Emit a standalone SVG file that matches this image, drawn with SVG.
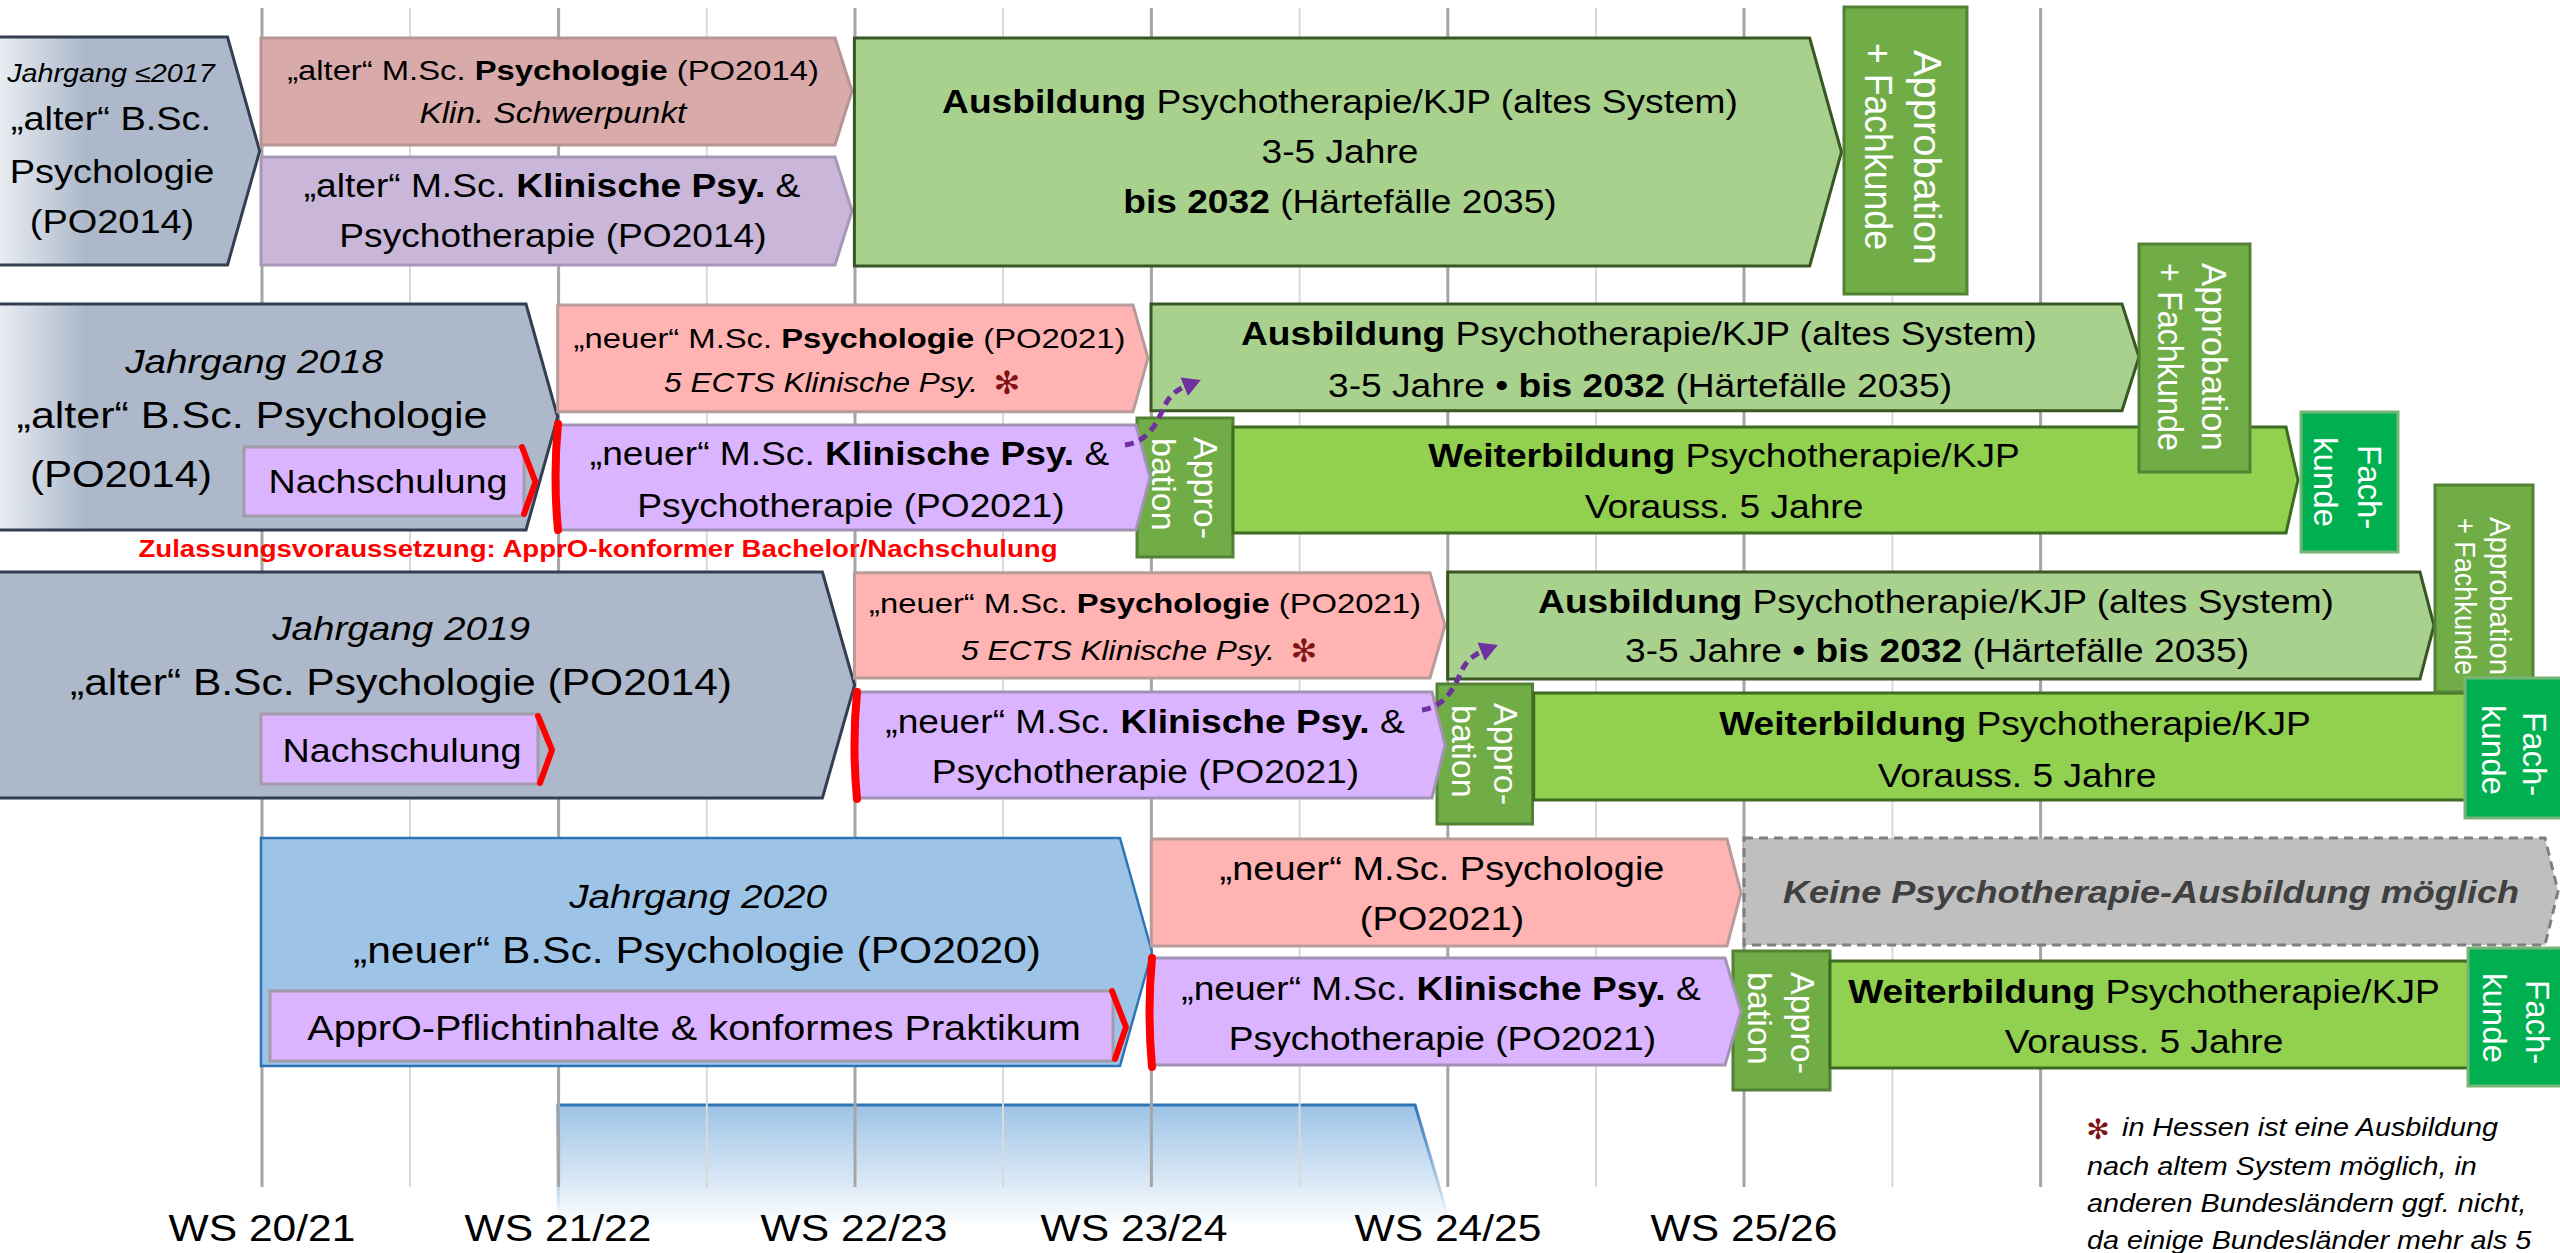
<svg xmlns="http://www.w3.org/2000/svg" width="2560" height="1253" viewBox="0 0 2560 1253">
<defs>
<linearGradient id="grayFade" gradientUnits="userSpaceOnUse" x1="0" y1="0" x2="85" y2="0"><stop offset="0" stop-color="#e9edf3"/><stop offset="1" stop-color="#adb9ca"/></linearGradient>
<linearGradient id="blueFade" gradientUnits="userSpaceOnUse" x1="0" y1="1105" x2="0" y2="1228"><stop offset="0" stop-color="#9dc3e6"/><stop offset="1" stop-color="#ffffff"/></linearGradient>
<linearGradient id="blueEdge" gradientUnits="userSpaceOnUse" x1="0" y1="1105" x2="0" y2="1215"><stop offset="0" stop-color="#2e75b6"/><stop offset="1" stop-color="#2e75b6" stop-opacity="0"/></linearGradient>
<marker id="ah" viewBox="0 0 18 20" refX="2" refY="10" markerWidth="18" markerHeight="20" markerUnits="userSpaceOnUse" orient="auto"><path d="M0,0 L18,10 L0,20 z" fill="#7030a0"/></marker>
<style>
.t{font-family:"Liberation Sans",Arial,sans-serif;text-anchor:middle;transform-box:fill-box;transform-origin:center;transform:scaleX(1.15);fill:#000}
.fl{font-family:"Liberation Sans",Arial,sans-serif;font-style:italic;font-size:25px;transform-box:fill-box;transform-origin:left center;transform:scaleX(1.15);fill:#000}
.i{font-style:italic}
.b{font-weight:bold}
.v{font-family:"Liberation Sans",Arial,sans-serif;fill:#ffffff}
.star{font-family:"DejaVu Sans",sans-serif;fill:#7f1414;text-anchor:middle}
.maj{stroke:#a6a6a6;stroke-width:3}
.min{stroke:#d9d9d9;stroke-width:2}
.gray{fill:#adb9ca;stroke:#333f50;stroke-width:3}
.grayG{fill:url(#grayFade);stroke:#333f50;stroke-width:3}
.pinkOld{fill:#d9aaaa;stroke:#b99494;stroke-width:3}
.purOld{fill:#c9b6d9;stroke:#a797b7;stroke-width:3}
.pink{fill:#ffb3b3;stroke:#b99b9b;stroke-width:3}
.pur{fill:#dab4fe;stroke:#a293b3;stroke-width:3}
.ausb{fill:#a9d18e;stroke:#385723;stroke-width:3}
.weit{fill:#92d050;stroke:#3e6b22;stroke-width:3}
.appr{fill:#70ad47;stroke:#548235;stroke-width:3}
.fach{fill:#00b050;stroke:#76b576;stroke-width:3}
.blue{fill:#9dc3e6;stroke:#2e75b6;stroke-width:2.5}
.nach{fill:#dab4fe;stroke:#a49aa9;stroke-width:3}
.none{fill:#bfbfbf;stroke:#7f7f7f;stroke-width:3;stroke-dasharray:9 6}
.red{fill:none;stroke:#ff0000;stroke-width:6;stroke-linecap:round;stroke-linejoin:round}
.redbar{fill:none;stroke:#ff0000;stroke-width:8;stroke-linecap:round}
</style>
</defs>
<rect width="2560" height="1253" fill="#ffffff"/>

<g id="future-fade">
<polygon points="558,1105 1415,1105 1459,1253 558,1253" fill="url(#blueFade)"/>
<polyline points="558,1253 558,1105 1415,1105 1459,1253" fill="none" stroke="url(#blueEdge)" stroke-width="3"/>
</g>

<g id="grid">
<line class="maj" x1="262" y1="8" x2="262" y2="1187"/>
<line class="min" x1="410" y1="8" x2="410" y2="1187"/>
<line class="maj" x1="558.6" y1="8" x2="558.6" y2="1187"/>
<line class="min" x1="706.8" y1="8" x2="706.8" y2="1187"/>
<line class="maj" x1="855" y1="8" x2="855" y2="1187"/>
<line class="min" x1="1003" y1="8" x2="1003" y2="1187"/>
<line class="maj" x1="1151.4" y1="8" x2="1151.4" y2="1187"/>
<line class="min" x1="1299.6" y1="8" x2="1299.6" y2="1187"/>
<line class="maj" x1="1447.8" y1="8" x2="1447.8" y2="1187"/>
<line class="min" x1="1596" y1="8" x2="1596" y2="1187"/>
<line class="maj" x1="1744" y1="8" x2="1744" y2="1187"/>
<line class="min" x1="1892.4" y1="8" x2="1892.4" y2="1187"/>
<line class="maj" x1="2040.6" y1="8" x2="2040.6" y2="1187"/>
</g>

<!-- Row 1 -->
<g id="bsc-2017">
<polygon class="grayG" points="-3,37 227.5,37 259.7,151 227.5,265 -3,265"/>
<text class="t i" x="111" y="82" font-size="25">Jahrgang ≤2017</text>
<text class="t" x="111" y="130" font-size="33">„alter“ B.Sc.</text>
<text class="t" x="112" y="183" font-size="33">Psychologie</text>
<text class="t" x="112" y="233" font-size="33">(PO2014)</text>
</g>
<g id="msc-psy-2014">
<polygon class="pinkOld" points="261,38 835,38 852,91 835,145 261,145"/>
<text class="t" x="553" y="80" font-size="28.5">„alter“ M.Sc. <tspan class="b">Psychologie</tspan> (PO2014)</text>
<text class="t i" x="553" y="123" font-size="29">Klin. Schwerpunkt</text>
</g>
<g id="msc-klin-2014">
<polygon class="purOld" points="261,157 835,157 852,211 835,265 261,265"/>
<text class="t" x="552" y="197" font-size="32.3">„alter“ M.Sc. <tspan class="b">Klinische Psy.</tspan> &amp;</text>
<text class="t" x="553" y="247" font-size="32.3">Psychotherapie (PO2014)</text>
</g>
<g id="ausbildung-1">
<polygon class="ausb" points="854.4,38 1809.7,38 1841.5,152 1809.7,266 854.4,266"/>
<text class="t" x="1340" y="113" font-size="32.3"><tspan class="b">Ausbildung</tspan> Psychotherapie/KJP (altes System)</text>
<text class="t" x="1340" y="163" font-size="32.3">3-5 Jahre</text>
<text class="t" x="1340" y="213" font-size="32.3"><tspan class="b">bis 2032</tspan> (Härtefälle 2035)</text>
</g>
<g id="approb-fach-1">
<rect class="appr" x="1844" y="7" width="123" height="287"/>
<text class="v" font-size="38" transform="translate(1914,50) rotate(90)" textLength="215" lengthAdjust="spacingAndGlyphs">Approbation</text>
<text class="v" font-size="38" transform="translate(1865,43) rotate(90)" textLength="207" lengthAdjust="spacingAndGlyphs">+ Fachkunde</text>
</g>

<!-- Row 2 -->
<g id="bsc-2018">
<polygon class="grayG" points="-3,304 526,304 557.7,417 526,530 -3,530"/>
<text class="t i" x="254" y="373" font-size="33.6">Jahrgang 2018</text>
<text class="t" x="252" y="428" font-size="37.4">„alter“ B.Sc. Psychologie</text>
<text class="t" x="121" y="487" font-size="36.5">(PO2014)</text>
</g>
<g id="nachschulung-2018">
<rect class="nach" x="244" y="447" width="280" height="69"/>
<text class="t" x="388" y="493" font-size="32.8">Nachschulung</text>
<polyline class="red" points="522,447 535.5,482 524,514"/>
</g>
<g id="appbat-2">
<rect class="appr" x="1137" y="418" width="96" height="139"/>
<text class="v" font-size="34" transform="translate(1194,437) rotate(90)">Appro-</text>
<text class="v" font-size="34" transform="translate(1152,438) rotate(90)">bation</text>
</g>
<g id="msc-psy-2021-a">
<polygon class="pink" points="557.7,305 1133,305 1148,358 1133,411.7 557.7,411.7"/>
<text class="t" x="849.5" y="348" font-size="28.5">„neuer“ M.Sc. <tspan class="b">Psychologie</tspan> (PO2021)</text>
<text class="t i" x="821" y="392" font-size="27.5">5 ECTS Klinische Psy.</text>
<text class="star" x="1007" y="394" font-size="32">✻</text>
</g>
<g id="msc-klin-2021-a">
<polygon class="pur" points="558,425 1136,425 1150,477.5 1136,530 558,530"/>
<text class="t" x="849.5" y="465" font-size="32.3">„neuer“ M.Sc. <tspan class="b">Klinische Psy.</tspan> &amp;</text>
<text class="t" x="851" y="517" font-size="32.3">Psychotherapie (PO2021)</text>
<path class="redbar" d="M558,424 Q553,477 558,530"/>
</g>
<g id="ausbildung-2">
<polygon class="ausb" points="1151,304 2122,304 2139,357 2122,410.7 1151,410.7"/>
<text class="t" x="1639" y="345" font-size="32.3"><tspan class="b">Ausbildung</tspan> Psychotherapie/KJP (altes System)</text>
<text class="t" x="1640" y="397" font-size="32.3">3-5 Jahre • <tspan class="b">bis 2032</tspan> (Härtefälle 2035)</text>
</g>
<g id="weiterbildung-2">
<polygon class="weit" points="1233,427 2286,427 2298,480 2286,533 1233,533"/>
<text class="t" x="1724" y="467" font-size="32.3"><tspan class="b">Weiterbildung</tspan> Psychotherapie/KJP</text>
<text class="t" x="1724" y="518" font-size="32.3">Vorauss. 5 Jahre</text>
</g>
<g id="approb-fach-2">
<rect class="appr" x="2139" y="244" width="111" height="228"/>
<text class="v" font-size="35" transform="translate(2202,263) rotate(90)" textLength="188" lengthAdjust="spacingAndGlyphs">Approbation</text>
<text class="v" font-size="35" transform="translate(2158,263) rotate(90)" textLength="188" lengthAdjust="spacingAndGlyphs">+ Fachkunde</text>
</g>
<g id="fach-2">
<rect class="fach" x="2301" y="412" width="97" height="140"/>
<text class="v" font-size="33" transform="translate(2358,445) rotate(90)">Fach-</text>
<text class="v" font-size="33" transform="translate(2314,437) rotate(90)">kunde</text>
</g>
<g id="zulassung-note">
<text class="t b" x="598" y="557" font-size="24" style="fill:#ff0000">Zulassungsvoraussetzung: ApprO-konformer Bachelor/Nachschulung</text>
</g>

<!-- Row 3 -->
<g id="bsc-2019">
<polygon class="gray" points="-3,572 822.4,572 854.6,685 822.4,798 -3,798"/>
<text class="t i" x="401" y="640" font-size="33.6">Jahrgang 2019</text>
<text class="t" x="401" y="695" font-size="37">„alter“ B.Sc. Psychologie (PO2014)</text>
</g>
<g id="nachschulung-2019">
<rect class="nach" x="261" y="714" width="277" height="70"/>
<text class="t" x="402" y="762" font-size="32.8">Nachschulung</text>
<polyline class="red" points="538,716 552,750 540,783"/>
</g>
<g id="appbat-3">
<rect class="appr" x="1437" y="684" width="95.5" height="140"/>
<text class="v" font-size="34" transform="translate(1494,703) rotate(90)">Appro-</text>
<text class="v" font-size="34" transform="translate(1452,705) rotate(90)">bation</text>
</g>
<g id="msc-psy-2021-b">
<polygon class="pink" points="854.4,572.7 1430,572.7 1445,625.5 1430,678 854.4,678"/>
<text class="t" x="1145" y="613" font-size="28.5">„neuer“ M.Sc. <tspan class="b">Psychologie</tspan> (PO2021)</text>
<text class="t i" x="1118" y="660" font-size="27.5">5 ECTS Klinische Psy.</text>
<text class="star" x="1304" y="662" font-size="32">✻</text>
</g>
<g id="msc-klin-2021-b">
<polygon class="pur" points="854.4,692 1432,692 1445,745 1432,798 854.4,798"/>
<text class="t" x="1145" y="733" font-size="32.3">„neuer“ M.Sc. <tspan class="b">Klinische Psy.</tspan> &amp;</text>
<text class="t" x="1145.5" y="783" font-size="32.3">Psychotherapie (PO2021)</text>
<path class="redbar" d="M857,692 Q852,745 857,799"/>
</g>
<g id="ausbildung-3">
<polygon class="ausb" points="1447.7,572 2420,572 2434,625.5 2420,679 1447.7,679"/>
<text class="t" x="1936" y="613" font-size="32.3"><tspan class="b">Ausbildung</tspan> Psychotherapie/KJP (altes System)</text>
<text class="t" x="1937" y="662" font-size="32.3">3-5 Jahre • <tspan class="b">bis 2032</tspan> (Härtefälle 2035)</text>
</g>
<g id="weiterbildung-3">
<polygon class="weit" points="1533.7,693 2470,693 2485,746.5 2470,800 1533.7,800"/>
<text class="t" x="2015" y="735" font-size="32.3"><tspan class="b">Weiterbildung</tspan> Psychotherapie/KJP</text>
<text class="t" x="2017" y="787" font-size="32.3">Vorauss. 5 Jahre</text>
</g>
<g id="approb-fach-3">
<rect class="appr" x="2435" y="485" width="98" height="207"/>
<text class="v" font-size="29.5" transform="translate(2490,517) rotate(90)" textLength="158" lengthAdjust="spacingAndGlyphs">Approbation</text>
<text class="v" font-size="29.5" transform="translate(2455,518) rotate(90)" textLength="157" lengthAdjust="spacingAndGlyphs">+ Fachkunde</text>
</g>
<g id="fach-3">
<rect class="fach" x="2465" y="678" width="100" height="140"/>
<text class="v" font-size="33" transform="translate(2523,712) rotate(90)">Fach-</text>
<text class="v" font-size="33" transform="translate(2482,705) rotate(90)">kunde</text>
</g>

<!-- Row 4 -->
<g id="bsc-2020">
<polygon class="blue" points="261,838 1120,838 1152,952 1120,1066 261,1066"/>
<text class="t i" x="698" y="908" font-size="33.6">Jahrgang 2020</text>
<text class="t" x="697" y="963" font-size="37">„neuer“ B.Sc. Psychologie (PO2020)</text>
</g>
<g id="appro-pflicht">
<rect class="nach" x="270" y="991" width="843" height="70"/>
<text class="t" x="694" y="1040" font-size="34.5">ApprO-Pflichtinhalte &amp; konformes Praktikum</text>
<polyline class="red" points="1112,991 1126,1027 1115,1059"/>
</g>
<g id="appbat-4">
<rect class="appr" x="1733" y="951" width="97" height="139"/>
<text class="v" font-size="34" transform="translate(1790.5,972) rotate(90)">Appro-</text>
<text class="v" font-size="34" transform="translate(1748,972) rotate(90)">bation</text>
</g>
<g id="msc-psy-2021-c">
<polygon class="pink" points="1151.3,839 1727,839 1741,892.5 1727,946 1151.3,946"/>
<text class="t" x="1442" y="880" font-size="33">„neuer“ M.Sc. Psychologie</text>
<text class="t" x="1442" y="930" font-size="33">(PO2021)</text>
</g>
<g id="msc-klin-2021-c">
<polygon class="pur" points="1151.3,958 1725,958 1741,1011.5 1725,1065 1151.3,1065"/>
<text class="t" x="1441" y="1000" font-size="32.3">„neuer“ M.Sc. <tspan class="b">Klinische Psy.</tspan> &amp;</text>
<text class="t" x="1442.5" y="1050" font-size="32.3">Psychotherapie (PO2021)</text>
<path class="redbar" d="M1152,958 Q1147,1012 1152,1067"/>
</g>
<g id="keine-ausbildung">
<polygon class="none" points="1744,838 2545,838 2558,891.5 2545,945 1744,945"/>
<text class="t i b" x="2151" y="903" font-size="31.4" style="fill:#404040">Keine Psychotherapie-Ausbildung möglich</text>
</g>
<g id="weiterbildung-4">
<polygon class="weit" points="1830,961 2475,961 2490,1014.5 2475,1068 1830,1068"/>
<text class="t" x="2144" y="1003" font-size="32.3"><tspan class="b">Weiterbildung</tspan> Psychotherapie/KJP</text>
<text class="t" x="2144" y="1053" font-size="32.3">Vorauss. 5 Jahre</text>
</g>
<g id="fach-4">
<rect class="fach" x="2468" y="948" width="100" height="138"/>
<text class="v" font-size="33" transform="translate(2525.6,980) rotate(90)">Fach-</text>
<text class="v" font-size="33" transform="translate(2483,973) rotate(90)">kunde</text>
</g>

<g id="connectors" fill="none" stroke="#7030a0" stroke-width="5" stroke-dasharray="9 6" marker-end="url(#ah)">
<path d="M1125,445 C1148,442 1157,423 1164,407 C1169,396 1176,390 1186,386"/>
<path d="M1422,710 C1445,707 1454,688 1461,672 C1466,661 1473,655 1483,651"/>
</g>

<g id="axis-labels">
<text class="t" x="262" y="1241" font-size="37">WS 20/21</text>
<text class="t" x="558" y="1241" font-size="37">WS 21/22</text>
<text class="t" x="854" y="1241" font-size="37">WS 22/23</text>
<text class="t" x="1134" y="1241" font-size="37">WS 23/24</text>
<text class="t" x="1448" y="1241" font-size="37">WS 24/25</text>
<text class="t" x="1744" y="1241" font-size="37">WS 25/26</text>
</g>

<g id="footnote">
<text class="star" x="2098" y="1139" font-size="28">✻</text>
<text class="fl" x="2122" y="1136">in Hessen ist eine Ausbildung</text>
<text class="fl" x="2087" y="1175">nach altem System möglich, in</text>
<text class="fl" x="2087" y="1212">anderen Bundesländern ggf. nicht,</text>
<text class="fl" x="2087" y="1249">da einige Bundesländer mehr als 5</text>
</g>
</svg>
